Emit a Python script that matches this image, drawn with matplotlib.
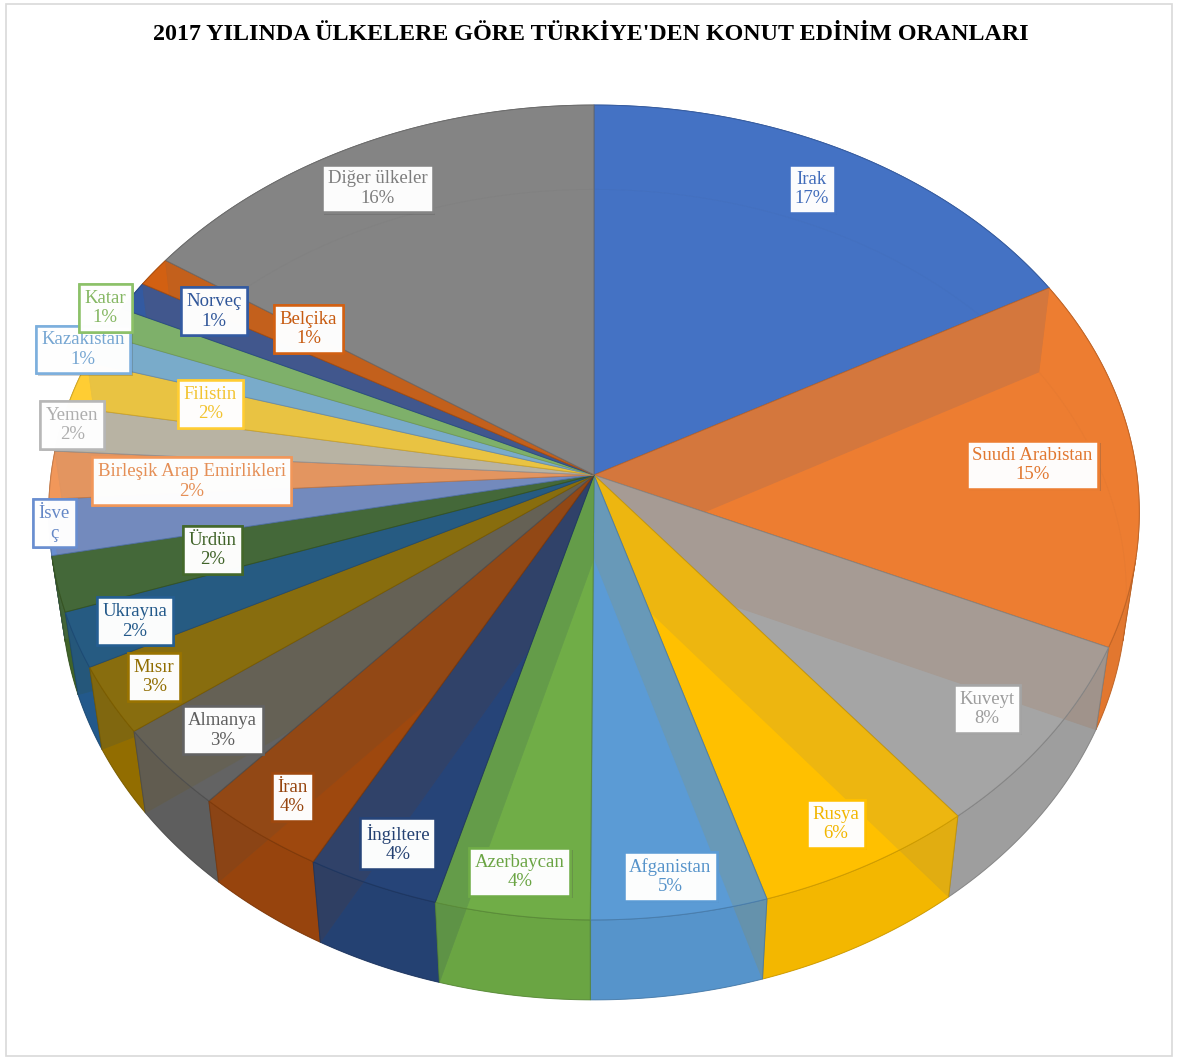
import matplotlib

matplotlib.use("Agg")

import matplotlib.pyplot as plt
import matplotlib.patheffects as pe
import numpy as np
from matplotlib.colors import to_rgb
from matplotlib.patches import Polygon, Rectangle


TITLE = "2017 YILINDA ÜLKELERE GÖRE TÜRKİYE'DEN KONUT EDİNİM ORANLARI"

COUNTRIES = [
    "Irak", "Suudi Arabistan", "Kuveyt", "Rusya", "Afganistan", "Azerbaycan",
    "İngiltere", "İran", "Almanya", "Mısır", "Ukrayna", "Ürdün", "İsveç",
    "Birleşik Arap Emirlikleri", "Yemen", "Filistin", "Kazakistan", "Katar",
    "Norveç", "Belçika", "Diğer ülkeler",
]
SHARES = [
    17.0, 14.8, 7.6, 6.0, 4.8, 4.2,
    3.6, 3.6, 3.3, 2.7, 2.2, 2.2, 2.2,
    1.9, 1.8, 1.9, 1.2, 1.2,
    1.2, 1.2, 15.6,
]
COLORS = [
    "#4472C4", "#ED7D31", "#A5A5A5", "#FFC000", "#5B9BD5", "#70AD47",
    "#264478", "#9E480E", "#636363", "#997300", "#255E91", "#43682B", "#698ED0",
    "#F1975A", "#B7B7B7", "#FFCD33", "#7CAFDD", "#8CC168",
    "#335AA1", "#D26012", "#848484",
]
# the Isveç label is clipped in the original: name broken, no percent
CLIPPED_LABELS = {"İsveç": "İsve\nç"}

# label placement: distance from centre (fraction of radius) and angle nudge (deg)
LABEL_R = [
    0.87, 0.81, 0.88, 0.90, 0.92, 0.91,
    0.905, 0.905, 0.88, 0.91, 0.89, 0.715, 0.99,
    0.74, 0.98, 0.74, 1.02, 1.03,
    0.84, 0.66, 0.87,
]
LABEL_NUDGE = [
    1.0, -0.6, -0.8, -0.4, -0.2, 0.0,
    0.3, 0.0, 0.0, -0.3, 0.0, -0.5, -0.5,
    1.2, -0.7, -0.7, 0.6, -1.5,
    -2.6, -2.7, 1.3,
]

# perspective set-up (pixels)
W, H = 1178, 1060
CX, CY = 594, 475
DIST = 7.26
FOCAL = 543 * DIST
SIN_E, COS_E = 0.744, 0.668
THICK = 0.235


def project(r, theta, z):
    x = r * np.cos(theta)
    y = r * np.sin(theta)
    depth = DIST + y * COS_E - z * SIN_E
    sx = CX + FOCAL * x / depth
    sy = CY - FOCAL * (y * SIN_E + z * COS_E) / depth
    return sx, sy, depth


def shade(color, k):
    return tuple(min(1.0, c * k) for c in to_rgb(color))


def main() -> None:
    shares = np.array(SHARES)
    fracs = shares / shares.sum()
    pcts = np.round(fracs * 100).astype(int)
    bounds = np.radians(90 - 360 * np.concatenate([[0], np.cumsum(fracs)]))

    fig = plt.figure(figsize=(W / 100, H / 100), dpi=100)
    ax = fig.add_axes([0, 0, 1, 1])
    ax.set_xlim(0, W)
    ax.set_ylim(H, 0)
    ax.axis("off")

    ax.add_patch(Rectangle((6, 4), W - 12, H - 8, fill=False,
                           edgecolor="#D9D9D9", linewidth=1.2))

    cx0, cy0, _ = project(0.0, 0.0, 0.0)
    cxb, cyb, _ = project(0.0, 0.0, -THICK)
    # visibility limit of the outer wall: sin(theta) < -1 / (DIST * COS_E)
    wall_limit = -1.0 / (DIST * COS_E)

    radial, walls = [], []
    for i, color in enumerate(COLORS):
        t0, t1 = bounds[i], bounds[i + 1]
        ts = np.linspace(t0, t1, max(8, int(abs(t1 - t0) * 120)))
        top_x, top_y, d_top = project(1.0, ts, 0.0)
        bot_x, bot_y, _ = project(1.0, ts, -THICK)

        # bottom face and back walls: same colour, only seen through the top
        ax.add_patch(Polygon(np.column_stack([np.r_[cxb, bot_x], np.r_[cyb, bot_y]]),
                             closed=True, facecolor=color, edgecolor="none", zorder=0.5))
        back = np.sin(ts) >= wall_limit
        front = ~back
        if back.any():
            idx = np.where(back)[0]
            for seg in np.split(idx, np.where(np.diff(idx) > 1)[0] + 1):
                if len(seg) < 2:
                    continue
                pts = np.column_stack([np.r_[top_x[seg], bot_x[seg][::-1]],
                                       np.r_[top_y[seg], bot_y[seg][::-1]]])
                ax.add_patch(Polygon(pts, closed=True, facecolor=color,
                                     edgecolor=shade(color, 0.8), linewidth=0.6,
                                     zorder=0.7))
        if front.any():
            idx = np.where(front)[0]
            lo, hi = max(idx[0] - 1, 0), min(idx[-1] + 1, len(ts) - 1)
            seg = np.arange(lo, hi + 1)
            pts = np.column_stack([np.r_[top_x[seg], bot_x[seg][::-1]],
                                   np.r_[top_y[seg], bot_y[seg][::-1]]])
            walls.append((d_top[seg].mean(), pts, color))

        # radial side faces that look towards the viewer
        for tb, visible in ((t0, np.cos(t0) < 0), (t1, np.cos(t1) > 0)):
            if not visible:
                continue
            rx, ry, _ = project(np.array([0, 1, 1, 0]), tb,
                                np.array([0, 0, -THICK, -THICK]))
            _, _, dm = project(0.5, tb, -THICK / 2)
            radial.append((dm, np.column_stack([rx, ry]), color))

    for _, pts, color in sorted(radial, key=lambda p: -p[0]):
        ax.add_patch(Polygon(pts, closed=True, facecolor=shade(color, 0.75),
                             edgecolor=shade(color, 0.7), linewidth=0.6,
                             zorder=1))
    for _, pts, color in sorted(walls, key=lambda p: -p[0]):
        ax.add_patch(Polygon(pts, closed=True, facecolor=shade(color, 0.95),
                             edgecolor=shade(color, 0.78), linewidth=0.7,
                             alpha=0.86, zorder=2))
    for i, color in enumerate(COLORS):
        ts = np.linspace(bounds[i], bounds[i + 1],
                         max(8, int(abs(bounds[i + 1] - bounds[i]) * 120)))
        top_x, top_y, _ = project(1.0, ts, 0.0)
        pts = np.column_stack([np.r_[cx0, top_x], np.r_[cy0, top_y]])
        ax.add_patch(Polygon(pts, closed=True, facecolor=color,
                             edgecolor=shade(color, 0.8), linewidth=0.7,
                             alpha=0.87, zorder=3))

    for i, name in enumerate(COUNTRIES):
        mid = 0.5 * (bounds[i] + bounds[i + 1]) + np.radians(LABEL_NUDGE[i])
        lx, ly, _ = project(LABEL_R[i], mid, 0.0)
        text = CLIPPED_LABELS.get(name, f"{name}\n{pcts[i]}%")
        t = ax.text(lx, ly, text, ha="center", va="center", ma="center",
                    fontsize=13.5, family="Liberation Serif",
                    color=shade(COLORS[i], 0.95), linespacing=1.2, zorder=6,
                    bbox=dict(boxstyle="square,pad=0.3",
                              facecolor=(1, 1, 1, 0.88),
                              edgecolor=COLORS[i], linewidth=1.8))
        t.get_bbox_patch().set_path_effects(
            [pe.withSimplePatchShadow(offset=(1.5, -1.5), alpha=0.25), pe.Normal()])

    ax.text(W / 2 + 2, 35, TITLE, ha="center", va="center", fontsize=17.3,
            fontweight="bold", family="Liberation Serif", color="black")

    fig.savefig("out.png", dpi=100)
    plt.close(fig)


if __name__ == "__main__":
    main()
